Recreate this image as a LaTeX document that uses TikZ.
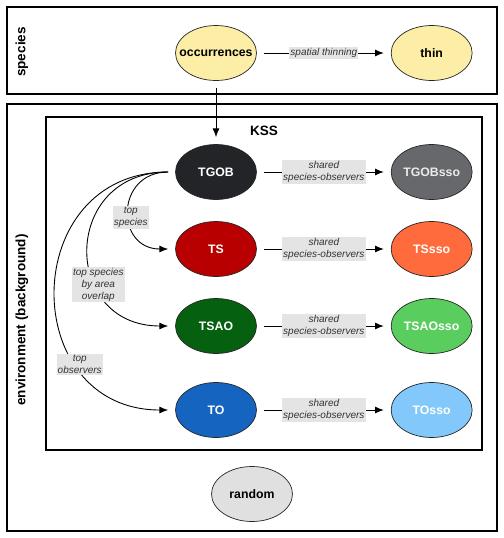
\documentclass[tikz,border=0pt]{standalone}
\usepackage{fontspec}
\setmainfont{Liberation Sans}
\usetikzlibrary{arrows.meta, positioning, shapes.geometric}
\definecolor{Sand}{HTML}{FCEEA6}
\definecolor{LabelGray}{HTML}{E4E4E4}
\definecolor{TextGray}{HTML}{333333}
\definecolor{Coal}{HTML}{222428}
\definecolor{Slate}{HTML}{66686B}
\definecolor{Crimson}{HTML}{B80000}
\definecolor{Coral}{HTML}{FF6B3D}
\definecolor{Forest}{HTML}{056010}
\definecolor{Leaf}{HTML}{5ACD5F}
\definecolor{Royal}{HTML}{1565C0}
\definecolor{Sky}{HTML}{82C8FA}
\definecolor{Mist}{HTML}{E0E0E0}
\newcommand{\stagefont}{\fontsize{7}{8.4}\selectfont\bfseries}
\newcommand{\edgefont}{\fontsize{5.7}{6.8}\selectfont\itshape}
\newcommand{\narrow}[1]{\makebox[0pt]{#1}}

\begin{document}
\begin{tikzpicture}[x=0.02cm, y=-0.02cm,
  stage/.style={draw=black!85, ellipse, minimum width=1.62cm, minimum height=1.1cm,
                inner sep=0pt, font=\stagefont},
  flow/.style={-{Latex[length=5pt, width=4pt]}, black, line width=0.5pt,
               shorten <=4pt, shorten >=4pt},
  edgelabel/.style={fill=LabelGray, text=TextGray, inner sep=0.6pt, align=center,
                    font=\edgefont},
  panel/.style={draw=black, line width=0.7pt},
  sidetitle/.style={rotate=90, font=\fontsize{7.7}{9}\selectfont\bfseries}]
  \useasboundingbox (0,0) rectangle (504,538);

  % Panels
  \draw[panel] (7,7) rectangle (497,94);
  \draw[panel] (7,104) rectangle (497,531);
  \draw[panel] (46,117) rectangle (482,450);
  \node[sidetitle] (spectitle) at (22,52) {species};
  \node[sidetitle] (envtitle) at (22,320) {environment (background)};
  \node[font=\fontsize{7.7}{9}\selectfont\bfseries] (ksstitle) at (264,131) {KSS};

  % Species stage
  \node[stage, fill=Sand] (occ) at (216,53) {\narrow{occurrences}};
  \node[stage, fill=Sand, right=2.68cm of occ] (thin) {\narrow{thin}};

  % Background stages
  \node[stage, fill=Coal, text=white] (tgob) at (216,172) {\narrow{TGOB}};
  \node[stage, fill=Crimson, text=white] (ts) at (216,249) {\narrow{TS}};
  \node[stage, fill=Forest, text=white] (tsao) at (216,326) {\narrow{TSAO}};
  \node[stage, fill=Royal, text=white] (to) at (216,410) {\narrow{TO}};

  \node[stage, fill=Slate, text=white!92!black, right=2.68cm of tgob] (tgobsso) {\narrow{TGOBsso}};
  \node[stage, fill=Coral, text=white, right=2.68cm of ts] (tssso) {\narrow{TSsso}};
  \node[stage, fill=Leaf, text=white, right=2.68cm of tsao] (tsaosso) {\narrow{TSAOsso}};
  \node[stage, fill=Sky, text=white, right=2.68cm of to] (tosso) {\narrow{TOsso}};

  \node[stage, fill=Mist] (random) at (252,494) {\narrow{random}};

  % Arrows
  \draw[flow] (occ) -- node[edgelabel] {spatial thinning} (thin);
  \draw[flow] (occ) -- (tgob);

  \draw[flow] (tgob) -- node[edgelabel] {shared\\species-observers} (tgobsso);
  \draw[flow] (ts) -- node[edgelabel] {shared\\species-observers} (tssso);
  \draw[flow] (tsao) -- node[edgelabel] {shared\\species-observers} (tsaosso);
  \draw[flow] (to) -- node[edgelabel] {shared\\species-observers} (tosso);

  \draw[flow] (tgob.west) to[out=180, in=180, looseness=2.0]
    node[edgelabel, pos=0.56] {top\\species} (ts.west);
  \draw[flow] (tgob.west) to[out=180, in=180, looseness=1.9]
    node[edgelabel, pos=0.66] {top species\\by area\\overlap} (tsao.west);
  \draw[flow] (tgob.west) to[out=180, in=180, looseness=1.7]
    node[edgelabel, pos=0.72] {top\\observers} (to.west);
\end{tikzpicture}
\end{document}
